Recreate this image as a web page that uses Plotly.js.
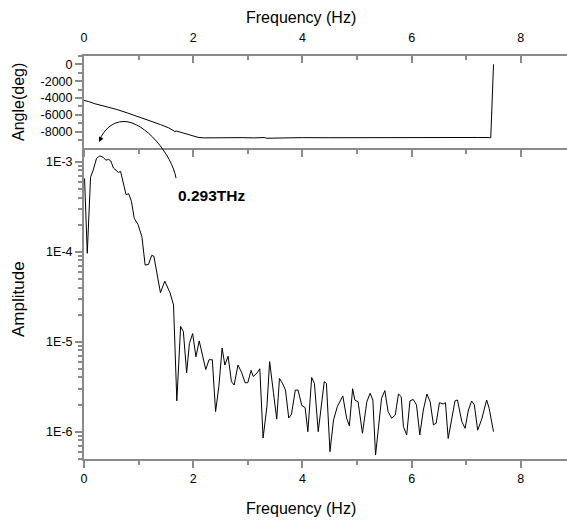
<!DOCTYPE html>
<html>
<head>
<meta charset="utf-8">
<script src="https://cdn.plot.ly/plotly-3.0.1.min.js"></script>
<style>html,body{margin:0;padding:0;background:#fff;}#chart{width:567px;height:525px;}</style>
</head>
<body>
<div id="chart"></div>
<script>
// Phase (angle) spectrum
const angleFreq = [0, 0.04, 0.08, 0.2, 0.4, 0.6, 0.8, 1.0, 1.2, 1.4, 1.55, 1.6, 1.66, 1.7, 1.76, 1.88, 2.0, 2.09, 2.2, 2.4, 2.55, 2.6, 2.7, 2.9, 3.1, 3.3, 3.35, 3.6, 4.0, 4.5, 5.0, 5.5, 6.0, 6.5, 7.0, 7.2, 7.4, 7.45, 7.5];
const angleDeg  = [-4300, -4320, -4420, -4690, -5010, -5370, -5800, -6230, -6680, -7170, -7560, -7750, -7980, -7950, -8060, -8330, -8560, -8700, -8760, -8750, -8740, -8680, -8740, -8730, -8760, -8720, -8800, -8740, -8730, -8740, -8720, -8730, -8720, -8730, -8720, -8710, -8720, -8740, 0];

// Amplitude spectrum
const ampFreq = [0.01,0.06,0.12,0.17,0.23,0.29,0.35,0.40,0.45,0.49,0.54,0.58,0.63,0.67,0.71,0.77,0.82,0.87,0.92,0.99,1.06,1.12,1.18,1.24,1.28,1.34,1.40,1.48,1.575,1.64,1.70,1.77,1.82,1.88,1.93,1.99,2.05,2.11,2.17,2.23,2.29,2.35,2.41,2.47,2.53,2.58,2.64,2.70,2.75,2.82,2.89,2.95,3.00,3.06,3.10,3.17,3.22,3.28,3.35,3.40,3.47,3.53,3.58,3.64,3.69,3.75,3.80,3.87,3.92,3.99,4.05,4.10,4.17,4.22,4.29,4.40,4.44,4.505,4.57,4.64,4.74,4.81,4.86,4.92,4.96,5.02,5.10,5.18,5.24,5.29,5.34,5.40,5.45,5.51,5.57,5.635,5.70,5.76,5.81,5.85,5.91,5.97,6.03,6.09,6.15,6.215,6.28,6.34,6.40,6.45,6.51,6.58,6.62,6.67,6.73,6.795,6.84,6.92,6.98,7.04,7.10,7.15,7.21,7.28,7.375,7.42,7.50];
const ampVal = [6.5e-4,9.6e-5,6.7e-4,8.1e-4,1.09e-3,1.16e-3,1.12e-3,1.04e-3,1.06e-3,1.02e-3,8.5e-4,8.1e-4,7.6e-4,7.8e-4,6.3e-4,4.3e-4,4.4e-4,3.6e-4,2.35e-4,2.0e-4,1.47e-4,7.1e-5,7.2e-5,9.1e-5,8.9e-5,5.75e-5,3.5e-5,4.7e-5,3.5e-5,2.56e-5,2.2e-6,1.48e-5,1.29e-5,4.5e-6,9.5e-6,1.23e-5,6.8e-6,1.02e-5,7.2e-6,4.9e-6,6.3e-6,6.3e-6,1.67e-6,3.2e-6,8.5e-6,5.5e-6,6.9e-6,3.6e-6,3.3e-6,5.5e-6,4.5e-6,3.5e-6,3.5e-6,4.8e-6,4.1e-6,4.5e-6,5.0e-6,8.5e-7,1.9e-6,6.0e-6,2.7e-6,1.38e-6,3.9e-6,3.4e-6,2.9e-6,1.42e-6,1.56e-6,2.9e-6,2.9e-6,1.95e-6,1.85e-6,1.0e-6,4.0e-6,3.44e-6,1.0e-6,3.6e-6,3.44e-6,6.0e-7,1.35e-6,1.9e-6,2.5e-6,1.41e-6,1.16e-6,3.0e-6,2.25e-6,2.15e-6,9.6e-7,2.15e-6,2.67e-6,2.25e-6,5.5e-7,1.14e-6,2.35e-6,2.86e-6,1.67e-6,1.41e-6,1.53e-6,2.62e-6,2.45e-6,1.14e-6,9.2e-7,2.2e-6,2.28e-6,1.98e-6,9.2e-7,1.74e-6,2.62e-6,2.15e-6,1.19e-6,1.24e-6,2.1e-6,2.03e-6,2.1e-6,8.4e-7,1.41e-6,2.2e-6,2.25e-6,1.29e-6,1.09e-6,1.74e-6,2.19e-6,1.98e-6,1.04e-6,1.35e-6,2.25e-6,1.82e-6,1.0e-6];

const angleTicks = [0, -2000, -4000, -6000, -8000];
const angleTickText = ['0', '-2000', '-4000', '-6000', '-8000'];
const ampTicks = [1e-6, 1e-5, 1e-4, 1e-3];
const ampTickText = ['1E-6', '1E-5', '1E-4', '1E-3'];
const freqTicks = [0, 2, 4, 6, 8];

const W = 567, H = 525;
const px = v => v / W;
const py = v => 1 - v / H;

const minorLog = [];
for (let e = -7; e <= -3; e++) for (let d = 2; d <= 9; d++) minorLog.push(d * Math.pow(10, e));

const gray = '#8a8a8a';
const font = {family: 'Liberation Sans, Arial, sans-serif', size: 12.5, color: '#000'};
const titleFont = {family: 'Liberation Sans, Arial, sans-serif', size: 16, color: '#000'};
const xr = [0, (W - 84) / 54.6];
const xdom = [px(84), 1];

const traces = [
  {x: angleFreq, y: angleDeg, xaxis: 'x', yaxis: 'y', mode: 'lines', line: {color: '#000', width: 1}, hoverinfo: 'skip'},
  {x: ampFreq, y: ampVal, xaxis: 'x2', yaxis: 'y2', mode: 'lines', line: {color: '#000', width: 1}, hoverinfo: 'skip'},
  {x: [null], y: [null], xaxis: 'x3', yaxis: 'y', mode: 'lines', showlegend: false, hoverinfo: 'skip'}
];

const xbase = {
  range: xr, domain: xdom, tickmode: 'array', tickvals: freqTicks, ticktext: freqTicks.map(String),
  showgrid: false, zeroline: false, showline: true, linecolor: gray, linewidth: 2,
  tickcolor: gray, tickwidth: 2, ticklen: 7, tickfont: font,
  minor: {tickmode: 'array', tickvals: [1, 3, 5, 7], ticks: 'outside', ticklen: 4, tickwidth: 2, tickcolor: gray, showgrid: false}
};

const layout = {
  width: W, height: H, margin: {l: 0, r: 0, t: 0, b: 0}, showlegend: false,
  paper_bgcolor: '#fff', plot_bgcolor: 'rgba(0,0,0,0)', font: font,
  xaxis: Object.assign({}, xbase, {anchor: 'y', side: 'top', ticks: 'inside', ticklabelstandoff: 7,
    minor: Object.assign({}, xbase.minor, {ticks: 'inside'})}),
  xaxis3: Object.assign({}, xbase, {anchor: 'y', side: 'bottom', ticks: 'outside', showticklabels: false, overlaying: 'x'}),
  xaxis2: Object.assign({}, xbase, {anchor: 'y2', side: 'bottom', ticks: 'outside'}),
  yaxis: {
    domain: [py(148.3), py(56)], range: [-10000, 1000], anchor: 'x',
    tickmode: 'array', tickvals: angleTicks, ticktext: angleTickText, ticks: 'outside',
    ticklen: 7, tickwidth: 2, tickcolor: gray, tickfont: font,
    showgrid: false, zeroline: false, showline: true, linecolor: gray, linewidth: 2,
    minor: {tickmode: 'array', tickvals: [1000, -1000, -3000, -5000, -7000, -9000], ticks: 'outside', ticklen: 4, tickwidth: 2, tickcolor: gray, showgrid: false}
  },
  yaxis2: {
    type: 'log', domain: [py(459.3), py(149)], range: [-6.307, -2.859], anchor: 'x2',
    tickmode: 'array', tickvals: ampTicks, ticktext: ampTickText, ticks: 'outside',
    ticklen: 7, tickwidth: 2, tickcolor: gray, tickfont: font,
    showgrid: false, zeroline: false, showline: true, linecolor: gray, linewidth: 2,
    minor: {tickmode: 'array', tickvals: minorLog, ticks: 'outside', ticklen: 4, tickwidth: 2, tickcolor: gray, showgrid: false}
  },
  shapes: [
    {type: 'line', xref: 'paper', yref: 'paper', x0: px(84), x1: 1, y0: py(149), y1: py(149), line: {color: gray, width: 2}},
    {type: 'path', xref: 'paper', yref: 'paper', line: {color: '#000', width: 1},
     path: `M ${px(176)},${py(178)} C ${px(172)},${py(155)} ${px(145)},${py(121.5)} ${px(124)},${py(121.5)} C ${px(112)},${py(121.5)} ${px(104)},${py(130)} ${px(99.5)},${py(140)}`}
  ],
  annotations: [
    {text: 'Frequency (Hz)', xref: 'paper', yref: 'paper', x: px(301), y: py(17), xanchor: 'center', yanchor: 'middle', showarrow: false, font: titleFont},
    {text: 'Frequency (Hz)', xref: 'paper', yref: 'paper', x: px(301), y: py(508), xanchor: 'center', yanchor: 'middle', showarrow: false, font: titleFont},
    {text: 'Angle(deg)', xref: 'paper', yref: 'paper', x: px(18), y: py(102), xanchor: 'center', yanchor: 'middle', textangle: -90, showarrow: false, font: titleFont},
    {text: 'Amplitude', xref: 'paper', yref: 'paper', x: px(18), y: py(299), xanchor: 'center', yanchor: 'middle', textangle: -90, showarrow: false, font: {family: titleFont.family, size: 17, color: '#000'}},
    {text: '<b>0.293THz</b>', xref: 'paper', yref: 'paper', x: px(211), y: py(195), xanchor: 'center', yanchor: 'middle', showarrow: false, font: {family: titleFont.family, size: 15.5, color: '#000'}},
    {text: '', xref: 'paper', yref: 'paper', x: px(99), y: py(142), ax: 3, ay: -6, showarrow: true, arrowhead: 2, arrowsize: 1, arrowwidth: 1, arrowcolor: '#000'}
  ]
};

Plotly.newPlot('chart', traces, layout, {displayModeBar: false, staticPlot: true});
</script>
</body>
</html>
